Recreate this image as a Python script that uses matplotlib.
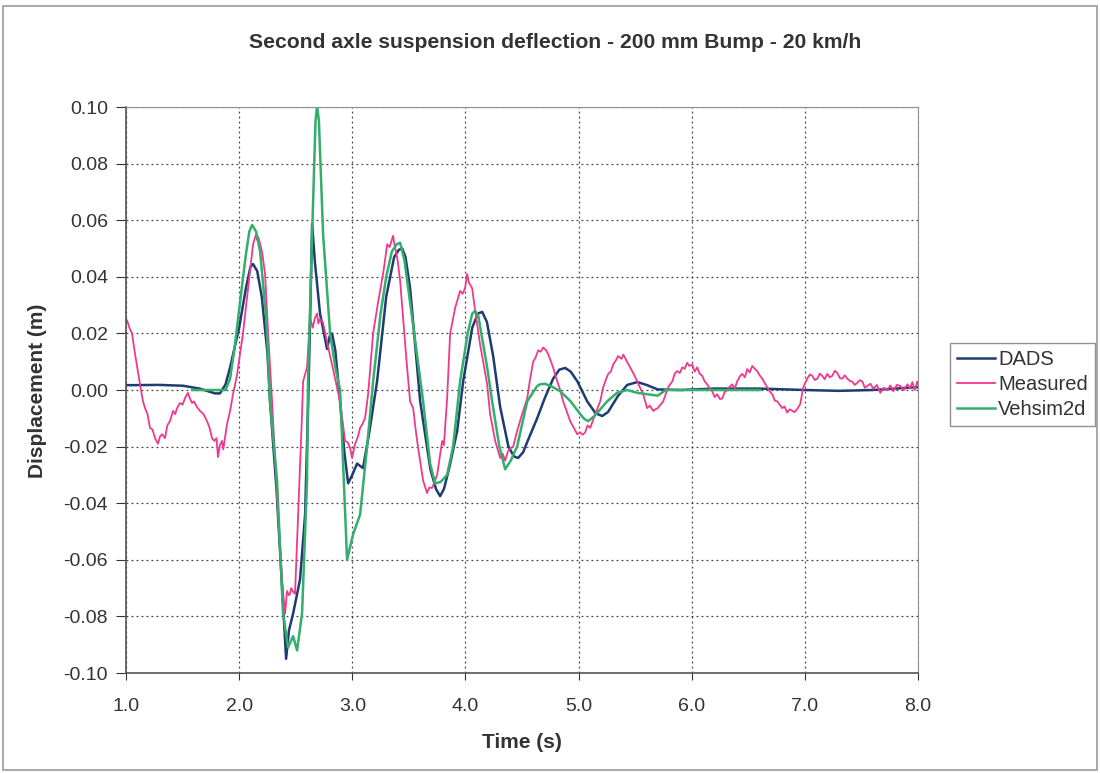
import matplotlib
matplotlib.use("Agg")
import matplotlib.pyplot as plt
from matplotlib.patches import Rectangle

plt.rcParams['font.family'] = ['Liberation Sans', 'DejaVu Sans']
plt.rcParams['axes.unicode_minus'] = False

title = "Second axle suspension deflection - 200 mm Bump - 20 km/h"
xlabel = "Time (s)"
ylabel = "Displacement (m)"
series_names = ["DADS", "Measured", "Vehsim2d"]

x_ticks = [1.0, 2.0, 3.0, 4.0, 5.0, 6.0, 7.0, 8.0]
y_ticks = [-0.10, -0.08, -0.06, -0.04, -0.02, 0.00, 0.02, 0.04, 0.06, 0.08, 0.10]

dads_points = [
    (1.0, 0.0017), (1.3, 0.0018), (1.504, 0.0015), (1.65, 0.0005), (1.787, -0.0012),
    (1.83, -0.0012), (1.88, 0.002), (1.92, 0.008), (2.0, 0.022), (2.06, 0.036),
    (2.10, 0.0435), (2.123, 0.0445), (2.16, 0.042), (2.2, 0.033), (2.25, 0.013),
    (2.273, -0.004), (2.33, -0.035), (2.38, -0.07), (2.415, -0.095), (2.44, -0.085),
    (2.477, -0.079), (2.538, -0.067), (2.583, -0.044), (2.61, -0.005), (2.63, 0.03),
    (2.645, 0.0587), (2.67, 0.045), (2.715, 0.027), (2.777, 0.0145), (2.80, 0.019),
    (2.821, 0.020), (2.85, 0.014), (2.892, -0.004), (2.93, -0.022), (2.963, -0.033),
    (3.00, -0.030), (3.042, -0.026), (3.095, -0.0276), (3.15, -0.015), (3.219, 0.003),
    (3.3, 0.033), (3.37, 0.047), (3.41, 0.0495), (3.441, 0.050), (3.47, 0.047),
    (3.511, 0.036), (3.6, -0.004), (3.69, -0.028), (3.74, -0.035), (3.776, -0.0375),
    (3.81, -0.035), (3.86, -0.027), (3.927, -0.0145), (3.98, 0.003), (4.06, 0.022),
    (4.11, 0.027), (4.148, 0.0276), (4.19, 0.024), (4.245, 0.012), (4.307, -0.006),
    (4.38, -0.02), (4.43, -0.0235), (4.466, -0.024), (4.51, -0.022), (4.55, -0.018),
    (4.634, -0.010), (4.70, -0.003), (4.775, 0.004), (4.83, 0.0072), (4.882, 0.0078),
    (4.93, 0.0065), (4.99, 0.003), (5.076, -0.004), (5.15, -0.0082), (5.209, -0.0092),
    (5.26, -0.0078), (5.35, -0.002), (5.43, 0.0018), (5.52, 0.0028), (5.6, 0.0018),
    (5.7, 0.0002), (5.9, 0.0), (6.2, 0.0005), (6.6, 0.0005), (7.0, 0.0),
    (7.3, -0.0003), (7.6, 0.0), (8.0, 0.001),
]

meas_points = [
    (1.0, 0.0245), (1.009, 0.0247), (1.03, 0.022), (1.053, 0.020), (1.080, 0.0127),
    (1.124, 0.002), (1.150, -0.004), (1.168, -0.0064), (1.19, -0.0085), (1.212, -0.0134),
    (1.235, -0.014), (1.256, -0.017), (1.283, -0.019), (1.30, -0.0165), (1.318, -0.0156),
    (1.345, -0.017), (1.365, -0.0125), (1.389, -0.011), (1.40, -0.0095), (1.416, -0.0074),
    (1.435, -0.0085), (1.451, -0.0064), (1.477, -0.0046), (1.50, -0.0052), (1.522, -0.0028),
    (1.548, -0.001), (1.565, -0.003), (1.584, -0.0046), (1.6, -0.004), (1.63, -0.0062),
    (1.654, -0.0074), (1.685, -0.0085), (1.716, -0.011), (1.74, -0.0135), (1.760, -0.017),
    (1.78, -0.018), (1.80, -0.017), (1.813, -0.0237), (1.83, -0.0195), (1.849, -0.018),
    (1.86, -0.021), (1.893, -0.012), (1.920, -0.0074), (1.946, -0.0015), (1.964, 0.002),
    (1.98, 0.005), (2.034, 0.020), (2.079, 0.036), (2.123, 0.0515), (2.149, 0.055),
    (2.16, 0.053), (2.17, 0.054), (2.202, 0.049), (2.229, 0.041), (2.256, 0.020),
    (2.291, -0.004), (2.335, -0.038), (2.379, -0.067), (2.406, -0.079), (2.424, -0.071),
    (2.44, -0.0725), (2.450, -0.072), (2.46, -0.070), (2.48, -0.0715), (2.494, -0.072),
    (2.521, -0.044), (2.556, -0.0085), (2.565, 0.003), (2.600, 0.008), (2.627, 0.0255),
    (2.65, 0.022), (2.67, 0.0255), (2.689, 0.027), (2.70, 0.0235), (2.715, 0.025),
    (2.74, 0.024), (2.777, 0.017), (2.821, 0.009), (2.866, 0.001), (2.892, -0.004),
    (2.936, -0.018), (2.96, -0.0185), (2.981, -0.0205), (2.998, -0.024), (3.025, -0.019),
    (3.05, -0.0165), (3.069, -0.0134), (3.09, -0.012), (3.113, -0.0099), (3.140, -0.0015),
    (3.184, 0.020), (3.228, 0.031), (3.272, 0.041), (3.29, 0.046), (3.308, 0.0515),
    (3.33, 0.0505), (3.361, 0.0545), (3.37, 0.052), (3.40, 0.046), (3.423, 0.0385),
    (3.449, 0.0255), (3.48, 0.010), (3.511, -0.004), (3.538, -0.0064), (3.56, -0.014),
    (3.582, -0.0205), (3.626, -0.032), (3.661, -0.0364), (3.68, -0.0345), (3.706, -0.0346),
    (3.750, -0.030), (3.794, -0.018), (3.81, -0.0195), (3.838, -0.003), (3.865, 0.020),
    (3.909, 0.029), (3.953, 0.035), (3.975, 0.034), (3.997, 0.036), (4.015, 0.041),
    (4.03, 0.038), (4.059, 0.036), (4.086, 0.028), (4.130, 0.016), (4.192, 0.002),
    (4.218, -0.0085), (4.263, -0.018), (4.307, -0.024), (4.33, -0.0225), (4.351, -0.025),
    (4.378, -0.0215), (4.40, -0.0205), (4.422, -0.020), (4.457, -0.0145), (4.501, -0.0085),
    (4.546, -0.003), (4.572, 0.004), (4.599, 0.010), (4.62, 0.0115), (4.643, 0.014),
    (4.665, 0.0135), (4.687, 0.015), (4.71, 0.0142), (4.731, 0.0127), (4.775, 0.008),
    (4.80, 0.0045), (4.837, 0.0), (4.864, -0.004), (4.926, -0.011), (4.96, -0.0135),
    (4.988, -0.0156), (5.014, -0.015), (5.035, -0.0158), (5.058, -0.015), (5.08, -0.0125),
    (5.103, -0.0134), (5.147, -0.0085), (5.191, -0.004), (5.218, 0.001), (5.24, 0.0035),
    (5.262, 0.0057), (5.285, 0.0065), (5.306, 0.009), (5.33, 0.0105), (5.350, 0.012),
    (5.38, 0.011), (5.395, 0.0125), (5.412, 0.0113), (5.435, 0.0095), (5.456, 0.008),
    (5.49, 0.0055), (5.518, 0.003), (5.571, -0.0015), (5.606, -0.0064), (5.63, -0.0055),
    (5.660, -0.0074), (5.68, -0.0068), (5.70, -0.0064), (5.748, -0.004), (5.783, 0.0),
    (5.80, 0.0015), (5.828, 0.003), (5.85, 0.0058), (5.872, 0.0067), (5.895, 0.006),
    (5.916, 0.008), (5.938, 0.0075), (5.960, 0.0096), (5.98, 0.0085), (6.004, 0.009),
    (6.027, 0.0065), (6.049, 0.008), (6.07, 0.0058), (6.093, 0.005), (6.115, 0.003),
    (6.137, 0.002), (6.16, 0.0005), (6.181, -0.0004), (6.203, -0.0025), (6.225, -0.0015),
    (6.25, -0.0032), (6.270, -0.003), (6.29, -0.0008), (6.314, 0.0), (6.335, 0.0012),
    (6.358, 0.002), (6.380, 0.0005), (6.402, 0.003), (6.425, 0.0048), (6.447, 0.0057),
    (6.47, 0.0045), (6.491, 0.0074), (6.513, 0.0062), (6.535, 0.0085), (6.557, 0.0075),
    (6.579, 0.0067), (6.60, 0.0052), (6.624, 0.004), (6.645, 0.0025), (6.668, 0.001),
    (6.69, -0.0005), (6.712, -0.0015), (6.735, -0.0038), (6.756, -0.004), (6.778, -0.0052),
    (6.800, -0.0064), (6.82, -0.0058), (6.844, -0.008), (6.865, -0.0068), (6.889, -0.0074),
    (6.91, -0.0078), (6.933, -0.0067), (6.959, -0.005), (6.986, 0.001), (7.021, 0.004),
    (7.044, 0.0055), (7.066, 0.005), (7.088, 0.0035), (7.110, 0.004), (7.132, 0.0058),
    (7.154, 0.005), (7.176, 0.0038), (7.198, 0.0057), (7.22, 0.0045), (7.242, 0.005),
    (7.265, 0.0068), (7.287, 0.006), (7.31, 0.0042), (7.331, 0.004), (7.353, 0.0052),
    (7.375, 0.004), (7.40, 0.0032), (7.419, 0.003), (7.441, 0.0018), (7.463, 0.0025),
    (7.485, 0.0035), (7.508, 0.003), (7.530, 0.0008), (7.552, 0.0014), (7.58, 0.0022),
    (7.605, 0.0004), (7.636, 0.0018), (7.667, -0.001), (7.698, 0.0008), (7.729, 0.0),
    (7.755, 0.0016), (7.782, -0.0004), (7.813, 0.0018), (7.844, 0.0014), (7.875, 0.0),
    (7.906, 0.002), (7.93, 0.0005), (7.950, 0.0028), (7.972, 0.0), (7.994, 0.003),
    (8.0, 0.002),
]

veh_points = [
    (1.584, 0.0), (1.88, 0.0), (1.92, 0.004), (1.96, 0.015), (2.008, 0.031),
    (2.06, 0.048), (2.09, 0.056), (2.114, 0.0583), (2.15, 0.056), (2.185, 0.049),
    (2.24, 0.025), (2.273, -0.004), (2.335, -0.032), (2.388, -0.079), (2.432, -0.091),
    (2.477, -0.087), (2.512, -0.092), (2.556, -0.079), (2.600, -0.032), (2.609, 0.003),
    (2.645, 0.055), (2.675, 0.095), (2.689, 0.1005), (2.705, 0.095), (2.742, 0.055),
    (2.804, 0.020), (2.85, 0.008), (2.892, 0.0), (2.954, -0.060), (3.007, -0.051),
    (3.069, -0.044), (3.131, -0.020), (3.184, 0.003), (3.25, 0.027), (3.3, 0.04),
    (3.35, 0.049), (3.396, 0.0516), (3.423, 0.052), (3.46, 0.046), (3.511, 0.031),
    (3.626, -0.004), (3.688, -0.026), (3.732, -0.033), (3.78, -0.0325), (3.838, -0.030),
    (3.891, -0.020), (3.953, 0.003), (4.02, 0.02), (4.06, 0.027), (4.086, 0.028),
    (4.115, 0.026), (4.14, 0.02), (4.192, 0.008), (4.236, -0.004), (4.30, -0.020),
    (4.351, -0.028), (4.40, -0.025), (4.457, -0.020), (4.546, -0.004), (4.634, 0.0014),
    (4.66, 0.002), (4.70, 0.0022), (4.75, 0.0015), (4.837, -0.0004), (4.93, -0.004),
    (5.014, -0.0085), (5.05, -0.0102), (5.085, -0.011), (5.14, -0.0092), (5.253, -0.004),
    (5.34, -0.001), (5.43, 0.0), (5.518, -0.001), (5.7, -0.002), (5.77, 0.0),
    (6.0, 0.0), (6.6, 0.0),
]

dads_t, dads_y = zip(*dads_points)
meas_t, meas_y = zip(*meas_points)
veh_t, veh_y = zip(*veh_points)

W, H = 1100, 773
fig = plt.figure(figsize=(W / 100, H / 100), dpi=100)
fig.patch.set_facecolor('white')
ax = fig.add_axes([126 / W, 1 - 673 / H, (918 - 126) / W, (673 - 107) / H])

c_dads = '#1e3c72'
c_meas = '#f0388f'
c_veh = '#35ad6c'

l1, = ax.plot(dads_t, dads_y, color=c_dads, lw=1.8, label=series_names[0])
l2, = ax.plot(meas_t, meas_y, color=c_meas, lw=1.3, label=series_names[1])
l3, = ax.plot(veh_t, veh_y, color=c_veh, lw=1.8, label=series_names[2])

ax.set_xlim(1.0, 8.0)
ax.set_ylim(-0.10, 0.10)
ax.set_xticks(x_ticks)
ax.set_yticks(y_ticks)
ax.set_xticklabels([f"{v:.1f}" for v in x_ticks])
ax.set_yticklabels([f"{v:.2f}" for v in y_ticks])
ax.tick_params(axis='both', labelsize=14, colors='#333333', direction='out')
ax.tick_params(axis='y', length=7, pad=6)
ax.tick_params(axis='x', length=5, pad=13)
ax.grid(True, color='#444444', linestyle=(0, (1.5, 2.5)), linewidth=0.9)
for side in ['top', 'right']:
    ax.spines[side].set_color('#909090')
for side in ['left', 'bottom']:
    ax.spines[side].set_color('#555555')
    ax.spines[side].set_linewidth(1.2)

fig.text(555 / W, 1 - 42 / H, title, ha='center', va='center', fontsize=15.2,
         fontweight='bold', color='#333333')
fig.text(522 / W, 1 - 742 / H, xlabel, ha='center', va='center', fontsize=15,
         fontweight='bold', color='#333333')
fig.text(38 / W, 1 - 391 / H, ylabel, ha='center', va='center', fontsize=15,
         fontweight='bold', color='#333333', rotation=90)

leg = fig.legend(handles=[l1, l2, l3], loc='upper left',
                 bbox_to_anchor=(950 / W, 1 - 343 / H), fontsize=14.5,
                 frameon=True, fancybox=False, edgecolor='#777777',
                 handlelength=1.9, handletextpad=0.15, borderpad=0.35,
                 labelspacing=0.3, borderaxespad=0)
leg.get_frame().set_linewidth(1.0)
for t in leg.get_texts():
    t.set_color('#333333')

fig.patches.append(Rectangle((3 / W, 3 / H), 1094 / W, 1 - 9 / H,
                             transform=fig.transFigure, fill=False,
                             edgecolor='#999999', lw=1.2))

fig.savefig('out.png', dpi=100, facecolor='white')
